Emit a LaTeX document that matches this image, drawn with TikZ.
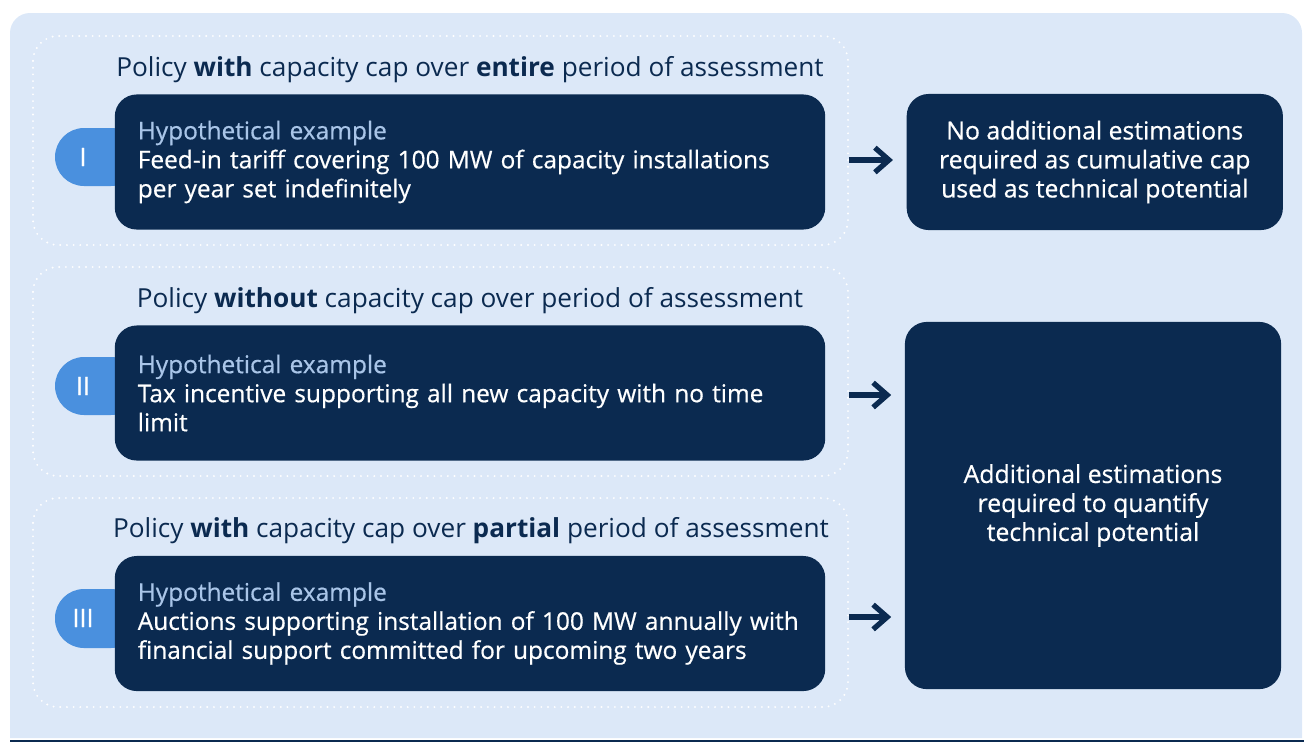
\documentclass[tikz,border=0pt]{standalone}
\usepackage{fontspec}
\setmainfont{Open Sans}
\newfontfamily\semibold[FakeBold=0.6]{Open Sans}
\usepackage{xcolor}
\usetikzlibrary{arrows.meta,positioning}
\definecolor{navy}{HTML}{0B2A50}
\definecolor{bgblue}{HTML}{DCE8F8}
\definecolor{pillblue}{HTML}{4A90DE}
\definecolor{hypo}{HTML}{A9C5E8}

\begin{document}
\begin{tikzpicture}[
  x=0.01cm,y=-0.01cm,
  title/.style={text=navy,font=\fontsize{7.45}{9}\selectfont},
  example/.style={fill=navy,rounded corners=0.22cm,text=white,align=left,text width=6.64cm,minimum width=7.1cm,minimum height=1.35cm,inner xsep=0.23cm,inner ysep=0pt,font=\semibold\fontsize{6.95}{8.25}\selectfont},
  result/.style={fill=navy,rounded corners=0.22cm,text=white,align=center,minimum width=3.76cm,inner sep=0pt,font=\semibold\fontsize{7.05}{8.25}\selectfont},
  pill/.style={fill=pillblue,rounded corners=0.29cm},
  numeral/.style={text=white,font=\semibold\fontsize{7.2}{8.25}\selectfont},
  group/.style={draw=white,line width=0.6pt,dash pattern=on 0pt off 1.9pt,line cap=round,rounded corners=0.25cm},
  line/.style={-{Straight Barb[length=4pt,width=7pt]},line width=1.5pt,draw=navy,shorten <=0.23cm,shorten >=0.13cm}
]
\useasboundingbox (0,0) rectangle (1304,742);
% backdrop
\fill[bgblue] (10,738) [rounded corners=0.2cm] -- (10,13) -- (1302,13) [sharp corners] -- (1302,738) -- cycle;
\draw[navy,line width=0.6pt] (10,741) -- (1304,741);

% dotted groups
\draw[group] (33,36) rectangle (848,245);
\draw[group] (33,267) rectangle (848,476);
\draw[group] (33,498) rectangle (848,707);

% group titles
\node[title] (t1) at (470,70) {Policy \textbf{with} capacity cap over \textbf{entire} period of assessment};
\node[title] (t2) at (470,301) {Policy \textbf{without} capacity cap over period of assessment};
\node[title] (t3) at (471,531) {Policy \textbf{with} capacity cap over \textbf{partial} period of assessment};

% numbered tabs
\fill[pill] (55,128) rectangle (140,186);
\fill[pill] (55,357) rectangle (140,415);
\fill[pill] (55,589) rectangle (140,648);
\node[numeral] (n1) at (83,157) {I};
\node[numeral] (n2) at (83,386) {II};
\node[numeral] (n3) at (83,618) {III};

% examples
\node[example] (ex1) at (470,162) {{\color{hypo}Hypothetical example}\\Feed-in tariff covering 100 MW of capacity installations\\per year set indefinitely};
\node[example] (ex2) at (470,393) {{\color{hypo}Hypothetical example}\\Tax incentive supporting all new capacity with no time\\limit};
\node[example] (ex3) at (470,623.5) {{\color{hypo}Hypothetical example}\\Auctions supporting installation of 100 MW annually with\\financial support committed for upcoming two years};

% outcomes
\node[result,right=0.8cm of ex1,minimum height=1.36cm] (res1) {No additional estimations\\required as cumulative cap\\used as technical potential};
\node[result,minimum height=3.67cm] (res2) at (1093,505.5) {Additional estimations\\required to quantify\\technical potential};

\draw[line] ([yshift=0.02cm]ex1.east) -- ([yshift=0.02cm]ex1.east -| res1.west);
\draw[line] ([yshift=-0.02cm]ex2.east) -- ([yshift=-0.02cm]ex2.east -| res2.west);
\draw[line] ([yshift=0.065cm]ex3.east) -- ([yshift=0.065cm]ex3.east -| res2.west);
\end{tikzpicture}
\end{document}
